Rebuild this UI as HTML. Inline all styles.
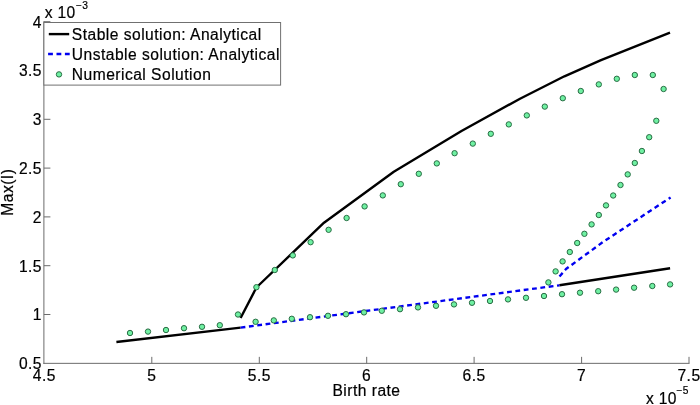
<!DOCTYPE html>
<html><head><meta charset="utf-8"><title>Birth rate vs Max(I)</title>
<style>html,body{margin:0;padding:0;background:#fff;}body{width:700px;height:405px;overflow:hidden;}svg{display:block;}text{font-family:'Liberation Sans',Arial,sans-serif;font-size:15.6px;fill:#000;stroke:#000;stroke-width:0.2px;letter-spacing:0.48px;}</style></head><body>
<svg width="700" height="405" viewBox="0 0 700 405">
<rect width="700" height="405" fill="#fff"/>
<g stroke="#6c6c6c" stroke-width="1" fill="none">
<line x1="43.9" y1="21.2" x2="43.9" y2="363.85"/>
<line x1="43.4" y1="363.35" x2="689.5" y2="363.35"/>
<line x1="151.8" y1="363.35" x2="151.8" y2="356.85"/>
<line x1="259.3" y1="363.35" x2="259.3" y2="356.85"/>
<line x1="366.7" y1="363.35" x2="366.7" y2="356.85"/>
<line x1="474.1" y1="363.35" x2="474.1" y2="356.85"/>
<line x1="581.6" y1="363.35" x2="581.6" y2="356.85"/>
<line x1="689.0" y1="363.35" x2="689.0" y2="356.85"/>
<line x1="43.9" y1="314.5" x2="50.4" y2="314.5"/>
<line x1="43.9" y1="265.7" x2="50.4" y2="265.7"/>
<line x1="43.9" y1="216.9" x2="50.4" y2="216.9"/>
<line x1="43.9" y1="168.1" x2="50.4" y2="168.1"/>
<line x1="43.9" y1="119.3" x2="50.4" y2="119.3"/>
<line x1="43.9" y1="70.5" x2="50.4" y2="70.5"/>
<line x1="43.9" y1="21.7" x2="50.4" y2="21.7"/>
</g>
<text x="44.4" y="380.6" text-anchor="middle">4.5</text>
<text x="151.8" y="380.6" text-anchor="middle">5</text>
<text x="259.3" y="380.6" text-anchor="middle">5.5</text>
<text x="366.7" y="380.6" text-anchor="middle">6</text>
<text x="474.1" y="380.6" text-anchor="middle">6.5</text>
<text x="581.6" y="380.6" text-anchor="middle">7</text>
<text x="689.0" y="380.6" text-anchor="middle">7.5</text>
<text x="42.0" y="369.2" text-anchor="end">0.5</text>
<text x="42.0" y="320.3" text-anchor="end">1</text>
<text x="42.0" y="271.5" text-anchor="end">1.5</text>
<text x="42.0" y="222.7" text-anchor="end">2</text>
<text x="42.0" y="173.9" text-anchor="end">2.5</text>
<text x="42.0" y="125.1" text-anchor="end">3</text>
<text x="42.0" y="76.3" text-anchor="end">3.5</text>
<text x="42.0" y="27.5" text-anchor="end">4</text>
<text x="44.7" y="18.3" style="letter-spacing:0.3px">x 10<tspan font-size="10.2" dy="-9.8" dx="0.7">−3</tspan></text>
<text x="646" y="404.2" style="letter-spacing:0.3px">x 10<tspan font-size="10.2" dy="-9.8" dx="-0.1">−5</tspan></text>
<text x="366.5" y="396" text-anchor="middle">Birth rate</text>
<text transform="translate(13.1,192.2) rotate(-90)" text-anchor="middle">Max(I)</text>
<g fill="none" stroke="#000" stroke-width="2.4" stroke-linejoin="round">
<polyline points="116.4,342.0 240.6,327.6"/>
<polyline points="240.6,318.0 256.4,287.5 324.0,222.7 393.8,171.7 461.5,131.0 520.0,98.7 564.4,76.3 601.0,60.2 670.0,32.6"/>
<polyline points="559.4,285.3 670.1,268.2"/>
</g>
<g fill="none" stroke="#0000f0" stroke-width="2.35" stroke-dasharray="4.8 3.6" stroke-linejoin="round">
<polyline points="240.6,327.6 559.4,285.3"/>
<polyline points="559.5,276.5 566.0,269.0 603.0,242.0 670.6,197.4"/>
</g>
<g fill="#6ff0a2" stroke="#2a6e45" stroke-width="1">
<circle cx="130.0" cy="333.0" r="2.7"/>
<circle cx="148.0" cy="331.6" r="2.7"/>
<circle cx="166.0" cy="330.0" r="2.7"/>
<circle cx="184.0" cy="328.2" r="2.7"/>
<circle cx="202.0" cy="326.8" r="2.7"/>
<circle cx="219.8" cy="325.2" r="2.7"/>
<circle cx="238.0" cy="314.5" r="2.7"/>
<circle cx="256.4" cy="287.2" r="2.7"/>
<circle cx="274.8" cy="270.0" r="2.7"/>
<circle cx="292.8" cy="255.4" r="2.7"/>
<circle cx="310.6" cy="242.2" r="2.7"/>
<circle cx="328.6" cy="229.8" r="2.7"/>
<circle cx="346.6" cy="218.0" r="2.7"/>
<circle cx="364.6" cy="206.4" r="2.7"/>
<circle cx="382.8" cy="195.4" r="2.7"/>
<circle cx="400.8" cy="184.2" r="2.7"/>
<circle cx="418.8" cy="173.8" r="2.7"/>
<circle cx="436.8" cy="163.4" r="2.7"/>
<circle cx="454.6" cy="153.2" r="2.7"/>
<circle cx="472.8" cy="143.6" r="2.7"/>
<circle cx="490.8" cy="133.8" r="2.7"/>
<circle cx="508.8" cy="124.4" r="2.7"/>
<circle cx="526.8" cy="115.4" r="2.7"/>
<circle cx="544.8" cy="106.6" r="2.7"/>
<circle cx="562.8" cy="98.2" r="2.7"/>
<circle cx="580.8" cy="91.0" r="2.7"/>
<circle cx="598.8" cy="84.4" r="2.7"/>
<circle cx="616.8" cy="78.8" r="2.7"/>
<circle cx="634.8" cy="75.0" r="2.7"/>
<circle cx="652.8" cy="75.0" r="2.7"/>
<circle cx="663.6" cy="89.0" r="2.7"/>
<circle cx="255.6" cy="321.8" r="2.7"/>
<circle cx="273.8" cy="320.4" r="2.7"/>
<circle cx="291.8" cy="318.8" r="2.7"/>
<circle cx="310.0" cy="317.2" r="2.7"/>
<circle cx="328.0" cy="315.8" r="2.7"/>
<circle cx="346.0" cy="314.2" r="2.7"/>
<circle cx="364.0" cy="312.4" r="2.7"/>
<circle cx="381.8" cy="310.8" r="2.7"/>
<circle cx="400.0" cy="309.2" r="2.7"/>
<circle cx="418.0" cy="307.4" r="2.7"/>
<circle cx="436.0" cy="305.8" r="2.7"/>
<circle cx="454.0" cy="304.4" r="2.7"/>
<circle cx="472.0" cy="302.8" r="2.7"/>
<circle cx="490.0" cy="301.0" r="2.7"/>
<circle cx="508.0" cy="299.4" r="2.7"/>
<circle cx="526.0" cy="297.8" r="2.7"/>
<circle cx="544.0" cy="296.0" r="2.7"/>
<circle cx="562.0" cy="294.2" r="2.7"/>
<circle cx="580.0" cy="292.7" r="2.7"/>
<circle cx="598.2" cy="291.2" r="2.7"/>
<circle cx="616.1" cy="289.6" r="2.7"/>
<circle cx="634.1" cy="287.7" r="2.7"/>
<circle cx="652.3" cy="286.0" r="2.7"/>
<circle cx="670.1" cy="284.4" r="2.7"/>
<circle cx="548.4" cy="282.4" r="2.7"/>
<circle cx="555.6" cy="271.4" r="2.7"/>
<circle cx="562.6" cy="261.4" r="2.7"/>
<circle cx="569.8" cy="252.0" r="2.7"/>
<circle cx="577.2" cy="243.0" r="2.7"/>
<circle cx="584.4" cy="233.8" r="2.7"/>
<circle cx="591.6" cy="224.4" r="2.7"/>
<circle cx="598.8" cy="215.0" r="2.7"/>
<circle cx="606.0" cy="205.4" r="2.7"/>
<circle cx="613.2" cy="195.5" r="2.7"/>
<circle cx="620.5" cy="185.0" r="2.7"/>
<circle cx="627.7" cy="174.4" r="2.7"/>
<circle cx="634.8" cy="163.0" r="2.7"/>
<circle cx="641.9" cy="151.0" r="2.7"/>
<circle cx="649.2" cy="137.2" r="2.7"/>
<circle cx="656.3" cy="120.8" r="2.7"/>
</g>
<rect x="43.9" y="22.5" width="236.7" height="62.6" fill="#fff" stroke="#707070" stroke-width="1"/>
<line x1="48.8" y1="34.1" x2="69.2" y2="34.1" stroke="#000" stroke-width="2.4"/>
<line x1="48.1" y1="54" x2="69.8" y2="54" stroke="#0000f0" stroke-width="2.35" stroke-dasharray="4.8 3.6"/>
<circle cx="59" cy="74.4" r="2.7" fill="#6ff0a2" stroke="#2a6e45" stroke-width="1"/>
<text class="lg" x="71.8" y="39.6">Stable solution: Analytical</text>
<text class="lg" x="71.8" y="59.6">Unstable solution: Analytical</text>
<text class="lg" x="71.8" y="79.8">Numerical Solution</text>
</svg></body></html>
